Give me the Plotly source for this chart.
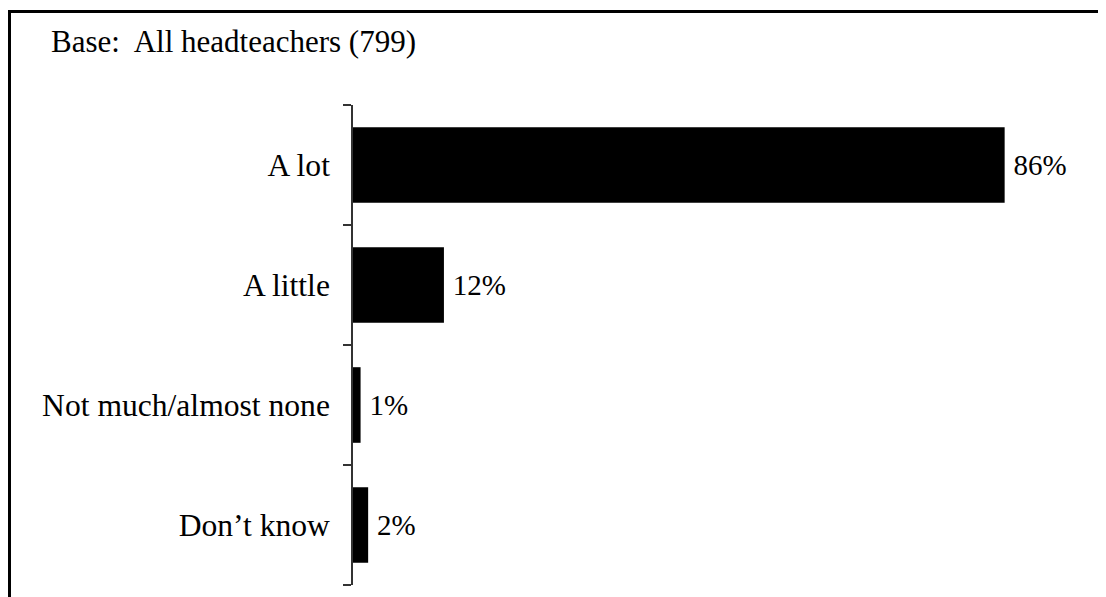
import plotly.graph_objects as go

categories = ["A lot", "A little", "Not much/almost none", "Don\u2019t know"]
values = [86, 12, 1, 2]
labels = ["86%", "12%", "1%", "2%"]
title_text = "Base:  All headteachers (799)"

# figure is drawn with an 8px page margin offset in the browser
W, H = 1106, 597
L, R = 345, 1080
T, B = 97, 577

def px_x(x):
    return (x - L) / (R - L)

def px_y(y):
    return (B - y) / (B - T)

fig = go.Figure(go.Bar(
    x=values, y=categories, orientation="h",
    marker=dict(color="black", line=dict(width=0)),
    width=0.63,
    text=labels, texttemplate="\u2009%{text}",
    textposition="outside", constraintext="none",
    textfont=dict(family="Liberation Serif", size=29, color="black"),
    cliponaxis=False,
))

fig.update_layout(
    width=W, height=H,
    margin=dict(l=L, r=W - R, t=T, b=H - B),
    paper_bgcolor="white", plot_bgcolor="white",
    showlegend=False,
    font=dict(family="Liberation Serif", color="black"),
    xaxis=dict(range=[0, 97], visible=False, fixedrange=True),
    yaxis=dict(
        categoryorder="array", categoryarray=categories[::-1],
        showline=True, linecolor="#333", linewidth=1.5,
        ticks="outside", tickson="boundaries", ticklen=8, tickcolor="#333", tickwidth=1.5,
        tickfont=dict(family="Liberation Serif", size=31.6, color="black"),
        ticklabelstandoff=15,
        showgrid=False, zeroline=False, fixedrange=True,
    ),
    shapes=[dict(
        type="rect", xref="paper", yref="paper",
        x0=px_x(1.5), x1=px_x(1094.5), y0=px_y(620), y1=px_y(3.5),
        line=dict(color="black", width=3), fillcolor="rgba(0,0,0,0)", layer="below",
    )],
    annotations=[dict(
        xref="paper", yref="paper", x=px_x(41), y=px_y(33),
        xanchor="left", yanchor="middle", showarrow=False,
        text=title_text, font=dict(family="Liberation Serif", size=31, color="black"),
    )],
)

fig.write_html("out.html")
